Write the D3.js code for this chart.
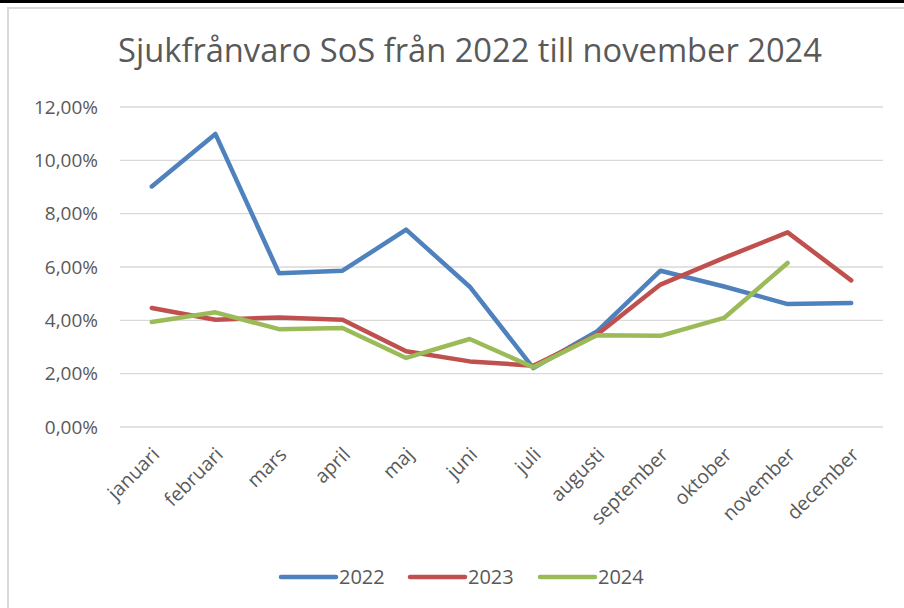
<!DOCTYPE html>
<html>
<head>
<meta charset="utf-8">
<script src="https://cdn.jsdelivr.net/npm/d3@7"></script>
<style>
  body { margin: 0; background: #fff; }
  svg text { font-family: "Open Sans", sans-serif; fill: #595959; }
</style>
</head>
<body>
<div id="chart"></div>
<script>
const months = ['januari', 'februari', 'mars', 'april', 'maj', 'juni', 'juli',
  'augusti', 'september', 'oktober', 'november', 'december'];
const years = ['2022', '2023', '2024'];
const values2022 = [9.02, 10.99, 5.77, 5.86, 7.40, 5.26, 2.21, 3.58, 5.86, 5.27, 4.61, 4.65];
const values2023 = [4.46, 4.02, 4.11, 4.02, 2.84, 2.46, 2.30, 3.46, 5.34, 6.34, 7.30, 5.50];
const values2024 = [3.94, 4.30, 3.67, 3.71, 2.59, 3.30, 2.24, 3.44, 3.42, 4.09, 6.15, null];
const yTicks = [0, 2, 4, 6, 8, 10, 12];
const colors = ['#4F81BD', '#C0504D', '#9BBB59'];

const W = 904, H = 608;
const margin = { top: 107, right: 21, bottom: 181, left: 120 };
const width = W - margin.left - margin.right;
const height = H - margin.top - margin.bottom;

const svg = d3.select('#chart').append('svg')
  .attr('width', W).attr('height', H);

// outer frame
svg.append('rect').attr('x', 0).attr('y', 0).attr('width', W).attr('height', 3)
  .attr('fill', '#000');
svg.append('rect').attr('x', 8).attr('y', 8).attr('width', W).attr('height', H)
  .attr('fill', 'none').attr('stroke', '#d9d9d9').attr('stroke-width', 2);

// title, fitted to the reference width
const title = svg.append('text')
  .attr('x', 470).attr('y', 62)
  .attr('text-anchor', 'middle')
  .style('font-size', '28px')
  .text('Sjukfrånvaro SoS från 2022 till november 2024');
const tw = title.node().getComputedTextLength();
title.style('font-size', (28 * 704 / tw) + 'px');

const g = svg.append('g')
  .attr('transform', `translate(${margin.left}, ${margin.top})`);

const x = d3.scaleBand().domain(months).range([0, width]);
const y = d3.scaleLinear().domain([0, 12]).range([height, 0]);

// gridlines
g.append('g').selectAll('line').data(yTicks).join('line')
  .attr('x1', 0).attr('x2', width)
  .attr('y1', d => y(d)).attr('y2', d => y(d))
  .attr('stroke', '#d9d9d9').attr('stroke-width', 1.4);

// y labels
g.append('g').selectAll('text').data(yTicks).join('text')
  .attr('x', -22).attr('y', d => y(d))
  .attr('dy', '0.35em')
  .attr('text-anchor', 'end')
  .style('font-size', '19px')
  .text(d => d3.format('.2f')(d).replace('.', ',') + '%');

// x labels
g.append('g').selectAll('text').data(months).join('text')
  .attr('transform', d => `translate(${x(d) + x.bandwidth() / 2 + 4}, ${height + 24}) rotate(-45)`)
  .attr('dy', '0.35em')
  .attr('text-anchor', 'end')
  .style('font-size', '19.5px')
  .text(d => d);

// lines
const series = [values2022, values2023, values2024];
const line = d3.line()
  .defined(d => d != null)
  .x((d, i) => x(months[i]) + x.bandwidth() / 2)
  .y(d => y(d));

g.append('g').selectAll('path').data(series).join('path')
  .attr('d', line)
  .attr('fill', 'none')
  .attr('stroke', (d, i) => colors[i])
  .attr('stroke-width', 4.5)
  .attr('stroke-linejoin', 'round')
  .attr('stroke-linecap', 'round');

// legend
const legendX = [281, 410, 540];
const legend = svg.append('g').selectAll('g').data(years).join('g')
  .attr('transform', (d, i) => `translate(${legendX[i]}, 577)`);
legend.append('line')
  .attr('x1', 0).attr('x2', 55)
  .attr('stroke', (d, i) => colors[i])
  .attr('stroke-width', 4.5)
  .attr('stroke-linecap', 'round');
legend.append('text')
  .attr('x', 58).attr('dy', '0.35em')
  .style('font-size', '20px')
  .text(d => d);
</script>
</body>
</html>
